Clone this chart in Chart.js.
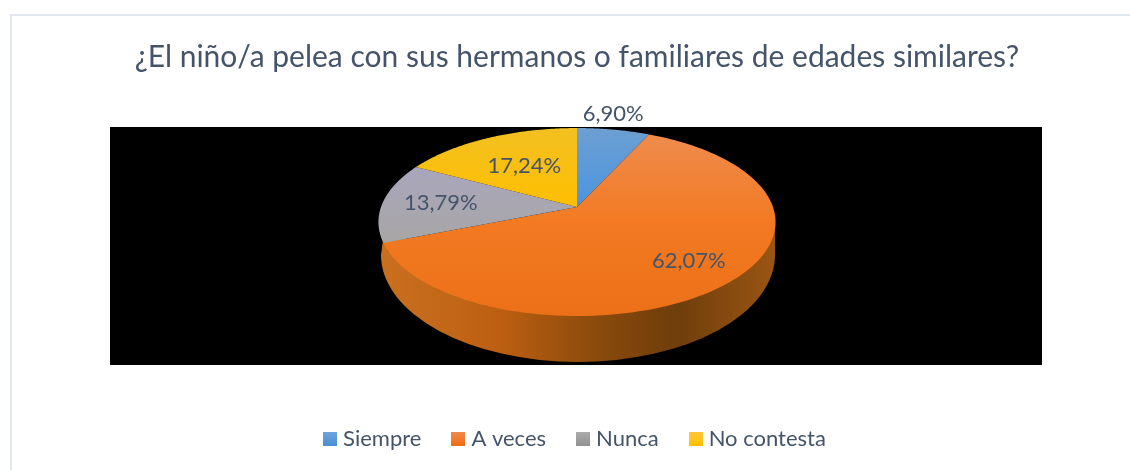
<!DOCTYPE html>
<html>
<head>
<meta charset="utf-8">
<style>html,body{margin:0;padding:0;background:#fff}canvas{display:block}</style>
<script src="https://cdn.jsdelivr.net/npm/chart.js@4"></script>
</head>
<body>
<canvas id="c" width="1130" height="470"></canvas>
<script>
const titleText = '¿El niño/a pelea con sus hermanos o familiares de edades similares?';
const categories = ['Siempre', 'A veces', 'Nunca', 'No contesta'];
const values = [6.90, 62.07, 13.79, 17.24];
const valueLabels = ['6,90%', '62,07%', '13,79%', '17,24%'];
const baseColors = ['#5b9bd5', '#ed7d31', '#a5a5a5', '#ffc000'];

const FONT = 'Lato, "Open Sans", sans-serif';
const TEXT = '#44546a';
// tilted-disc projection of the pie's unit circle on screen
const TILT = {cx: 577, cy: 207, a: 196, b: 91.6, k: 0.16};
const LABEL_R = [1.22, 0.75, 0.7, 0.55];
const LABEL_DX = [-7, 1, 0, -1];
const PLOT = {l: 110, t: 127, r: 1042, b: 365};

function project(theta, r) {
  const u = Math.cos(theta) * r, v = -Math.sin(theta) * r; // canvas angle, y down -> v up
  const d = 1 + TILT.k * v;
  return [TILT.cx + TILT.a * u / d, TILT.cy - TILT.b * v / d];
}
function vGrad(ctx, y0, y1, stops) {
  const g = ctx.createLinearGradient(0, y0, 0, y1);
  stops.forEach((c, i) => g.addColorStop(i / (stops.length - 1), c));
  return g;
}

const tiltedPie = {
  id: 'tiltedPie',
  beforeDraw(chart) {
    const ctx = chart.ctx;
    ctx.save();
    ctx.fillStyle = '#fff';
    ctx.fillRect(0, 0, chart.width, chart.height);
    ctx.fillStyle = '#e3e8f0';
    ctx.fillRect(10, 14, 2, chart.height - 14);
    ctx.fillRect(10, 14, chart.width - 10, 2);
    ctx.fillStyle = '#000';
    ctx.fillRect(PLOT.l, PLOT.t, PLOT.r - PLOT.l, PLOT.b - PLOT.t);
    ctx.restore();
  },
  beforeDatasetsDraw(chart) {
    const ctx = chart.ctx;
    const arcs = chart.getDatasetMeta(0).data;
    ctx.save();
    // rim under the disc
    const rim = ctx.createLinearGradient(381, 0, 775, 0);
    rim.addColorStop(0, '#c9701f');
    rim.addColorStop(0.3, '#bd5f12');
    rim.addColorStop(0.55, '#8a4a0c');
    rim.addColorStop(0.75, '#6f3e0b');
    rim.addColorStop(1, '#9a5514');
    ctx.fillStyle = rim;
    ctx.beginPath();
    ctx.moveTo(383, 240);
    ctx.ellipse(578, 255, 197, 107, 0, Math.PI, 0, true);
    ctx.lineTo(775, 222);
    ctx.closePath();
    ctx.fill();
    // top faces
    const fills = [
      vGrad(ctx, 128, 207, ['#6d9fd2', '#4a94e0']),
      vGrad(ctx, 130, 316, ['#ee8c50', '#f37a22', '#ec7018']),
      vGrad(ctx, 165, 240, ['#a9a6bd', '#a8a6a6']),
      vGrad(ctx, 128, 207, ['#f2c021', '#ffbf00'])
    ];
    arcs.forEach((arc, i) => {
      const p = arc.getProps(['startAngle', 'endAngle'], true);
      ctx.beginPath();
      ctx.moveTo(TILT.cx, TILT.cy);
      const n = 120;
      for (let s = 0; s <= n; s++) {
        const [x, y] = project(p.startAngle + (p.endAngle - p.startAngle) * s / n, 1);
        ctx.lineTo(x, y);
      }
      ctx.closePath();
      ctx.fillStyle = fills[i];
      ctx.fill();
    });
    // labels
    ctx.font = '22px ' + FONT;
    ctx.fillStyle = TEXT;
    ctx.textAlign = 'center';
    ctx.textBaseline = 'middle';
    arcs.forEach((arc, i) => {
      const p = arc.getProps(['startAngle', 'endAngle'], true);
      const [x, y] = project((p.startAngle + p.endAngle) / 2, LABEL_R[i]);
      ctx.fillText(valueLabels[i], x + LABEL_DX[i], y - 1);
    });
    ctx.restore();
    return false;
  }
};

const ctx = document.getElementById('c').getContext('2d');
const legendStops = [['#6fa5dc', '#4a8fd2'], ['#f08a50', '#ef6c10'], ['#acacac', '#919191'], ['#ffc83a', '#ffc000']];
function swatch(stops) {
  const s = document.createElement('canvas');
  s.width = 14; s.height = 14;
  const c = s.getContext('2d');
  c.fillStyle = vGrad(c, 0, 14, stops);
  c.fillRect(0, 0, 14, 14);
  return s;
}
new Chart(ctx, {
  type: 'pie',
  data: {labels: categories, datasets: [{data: values, backgroundColor: baseColors, borderWidth: 0}]},
  plugins: [tiltedPie],
  options: {
    responsive: false,
    animation: false,
    layout: {padding: {top: 39, bottom: 10, left: 24}},
    plugins: {
      tooltip: {enabled: false},
      title: {
        display: true,
        text: titleText,
        color: TEXT,
        font: {family: FONT, size: 30, weight: 'normal'},
        padding: {top: 0, bottom: 10}
      },
      legend: {
        position: 'bottom',
        labels: {
          color: TEXT,
          font: {family: FONT, size: 22},
          usePointStyle: true,
          pointStyleWidth: 4,
          padding: 35,
          generateLabels: () => categories.map((t, i) => ({
            text: t,
            fontColor: TEXT,
            fillStyle: baseColors[i],
            strokeStyle: 'transparent',
            lineWidth: 0,
            pointStyle: swatch(legendStops[i]),
            index: i
          }))
        }
      }
    }
  }
});
</script>
</body>
</html>
